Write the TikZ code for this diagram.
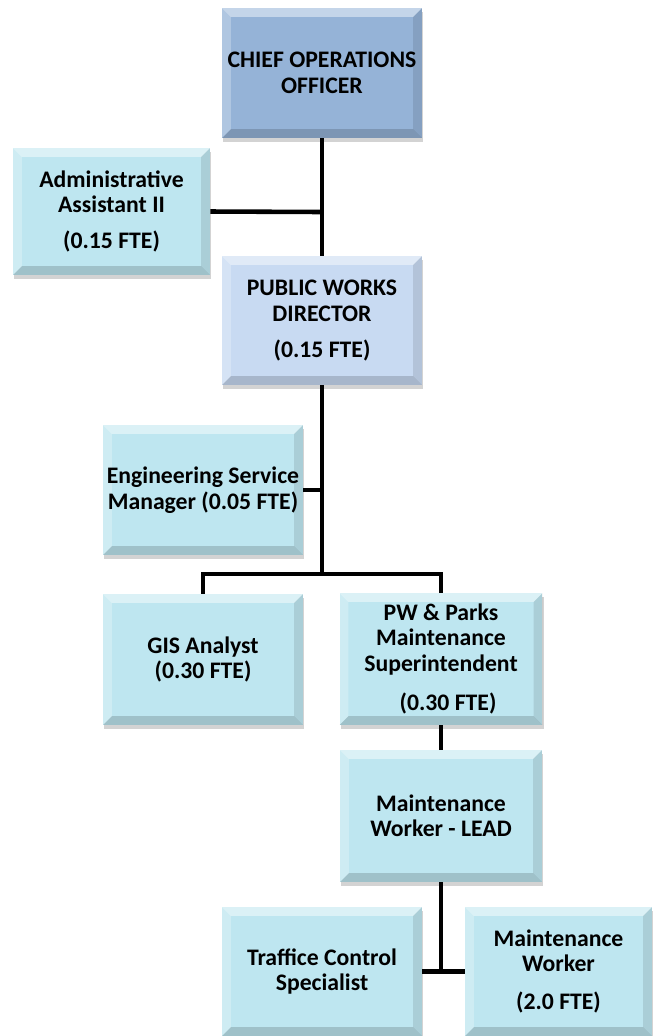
\documentclass[tikz,border=0pt]{standalone}
\usepackage{fontspec}
\setmainfont{Carlito}
\usetikzlibrary{positioning,shadows,calc}
\definecolor{chiefblue}{RGB}{149,179,215}
\definecolor{dirblue}{RGB}{200,218,242}
\definecolor{staffcyan}{RGB}{190,230,240}
\tikzset{%
	% Specifications for style of nodes:
	base/.style = {rectangle, draw=none, text centered, align=center,
	inner sep=2pt, font=\fontsize{13.5}{14.5}\selectfont\bfseries,
	drop shadow={opacity=.35, shadow xshift=.6pt, shadow yshift=-2pt},
	path picture={
		\fill[white,opacity=.45] (path picture bounding box.north west) -- (path picture bounding box.north east)
		-- ([shift={(-5pt,-5pt)}]path picture bounding box.north east) -- ([shift={(5pt,-5pt)}]path picture bounding box.north west) -- cycle;
		\fill[white,opacity=.25] (path picture bounding box.north west) -- (path picture bounding box.south west)
		-- ([shift={(5pt,5pt)}]path picture bounding box.south west) -- ([shift={(5pt,-5pt)}]path picture bounding box.north west) -- cycle;
		\fill[black,opacity=.10] (path picture bounding box.north east) -- (path picture bounding box.south east)
		-- ([shift={(-5pt,5pt)}]path picture bounding box.south east) -- ([shift={(-5pt,-5pt)}]path picture bounding box.north east) -- cycle;
		\fill[black,opacity=.16] (path picture bounding box.south west) -- (path picture bounding box.south east)
		-- ([shift={(-5pt,5pt)}]path picture bounding box.south east) -- ([shift={(5pt,5pt)}]path picture bounding box.south west) -- cycle;
	}},
	chief/.style = {base, fill=chiefblue, minimum width=4cm, minimum height=2.6cm},
	director/.style = {base, fill=dirblue, minimum width=4cm, minimum height=2.58cm},
	staff/.style = {base, fill=staffcyan, minimum width=4cm, minimum height=2.6cm},
	conn/.style = {line width=2.6pt, draw=black}
}

\begin{document}
\begin{tikzpicture}[x=0.02cm, y=-0.02cm]
	\useasboundingbox (0,0) rectangle (654,1036);
	% Specification of nodes (position, etc.)
	
	\node (ceo)     [chief] at (322,73)       {CHIEF OPERATIONS\\OFFICER};
	\node (admin)   [staff, minimum width=3.94cm, minimum height=2.54cm] at (111.5,211.5)
	{Administrative\\Assistant II\\[6pt](0.15 FTE)};
	\node (pwd)     [director] at (322,320.5)   {PUBLIC WORKS\\DIRECTOR\\[6pt](0.15 FTE)};
	\node (eng)     [staff] at (203,490)        {Engineering Service\\Manager (0.05 FTE)};
	\node (gis)     [staff, minimum height=2.62cm] at (203,659.5) {GIS Analyst\\(0.30 FTE)};
	\node (pwp)     [staff, minimum width=4.06cm, minimum height=2.64cm] at (441,659)
	{PW \& Parks\\Maintenance\\Superintendent\\[8pt]\hspace*{8pt}(0.30 FTE)};
	\node (lead)    [staff, minimum width=4.04cm, minimum height=2.64cm] at (441,816)
	{Maintenance\\Worker - LEAD};
	\node (traffic) [staff, minimum height=2.58cm] at (322,971.5) {Traffice Control\\Specialist};
	\node (mw)      [staff, minimum width=3.74cm, minimum height=2.58cm] at (558.5,971.5)
	{Maintenance\\Worker\\[7pt](2.0 FTE)};
	
	% junctions
	\coordinate (j1) at (322,212);
	\coordinate (j2) at (322,490);
	\coordinate (j3) at (322,574);
	\coordinate (gisj) at (203,574);
	\coordinate (pwj) at (441,574);
	\coordinate (j4) at (441,971.5);
	
	% connectors
	\draw[conn] (ceo) -- (pwd);
	\draw[conn] (admin.east) -- (j1);
	\draw[conn] (pwd) -- (j3);
	\draw[conn] (eng.east) -- (j2);
	\draw[conn] (gis) -- (gisj) -- (pwj) -- (pwp);
	\draw[conn] (pwp) -- (lead);
	\draw[conn] (lead) -- (j4);
	\draw[conn] (traffic) -- (mw);
\end{tikzpicture}
\end{document}
